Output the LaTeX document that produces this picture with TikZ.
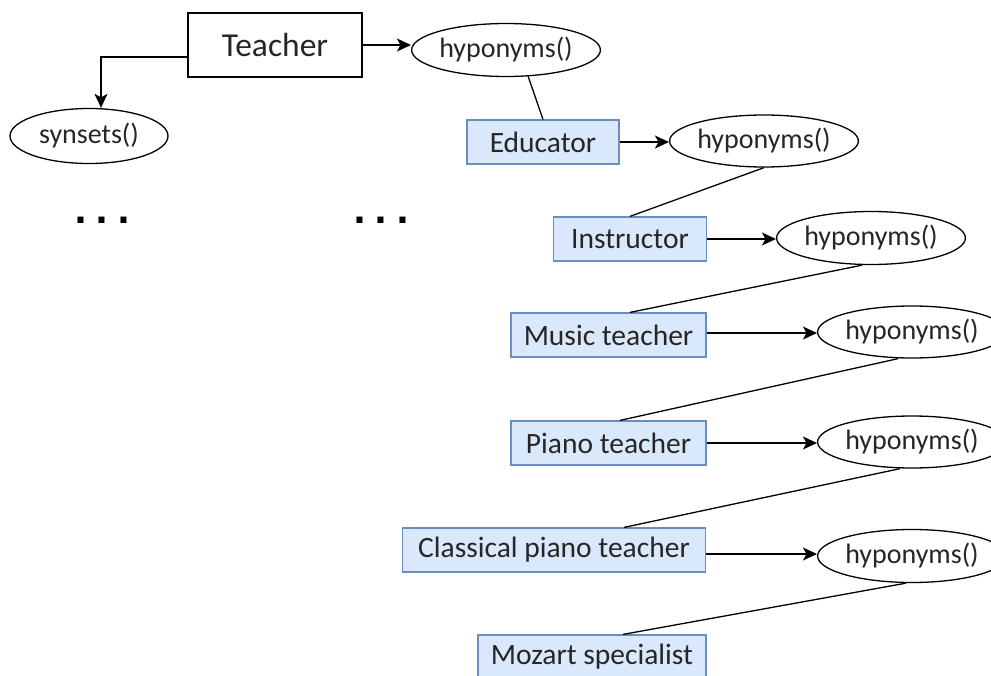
\documentclass[tikz,border=0pt]{standalone}
\usepackage{fontspec}
\setmainfont{Carlito}
\newfontfamily\dotfont{DejaVu Sans}
\usetikzlibrary{shapes.geometric,arrows.meta}
\definecolor{boxfill}{HTML}{DAE8FC}
\definecolor{boxline}{HTML}{6C8EBF}
\definecolor{inkgray}{HTML}{262626}
\tikzset{
  termbox/.style={draw=boxline, fill=boxfill, line width=1.2pt, text=inkgray,
    inner sep=0pt, minimum height=44pt, font=\fontsize{29.5}{31}\selectfont},
  rootbox/.style={draw=black, line width=1.4pt, text=inkgray, inner sep=0pt,
    minimum width=174pt, minimum height=64pt, font=\fontsize{33.5}{35}\selectfont},
  callnode/.style={draw=black, ellipse, line width=1.3pt, text=inkgray, inner sep=0pt,
    minimum width=162pt, minimum height=53pt, font=\fontsize{28}{30}\selectfont},
  link/.style={line width=1.3pt, draw=black},
  call/.style={link, -{Stealth[length=14pt,width=13pt,inset=3.5pt]}},
  dots/.style={text=black, inner sep=0pt, anchor=base,
    font=\dotfont\bfseries\fontsize{34}{34}\selectfont}
}
\newcommand{\dotrow}{.\hspace{8.6pt}.\hspace{8.6pt}.}
\begin{document}
\begin{tikzpicture}[x=1pt, y=-1pt]
\useasboundingbox (0,0) rectangle (991,675);

% root word and its two lookups
\node[rootbox] (teacher) at (275,45) {Teacher};
\node[callnode] (hyp0) at (506,50) {hyponyms()};
\node[callnode, minimum width=158pt, minimum height=55pt] (syn) at (89,136) {synsets()};

% chain of hyponyms
\node[termbox, minimum width=152pt] (educator) at (543,142) {Educator};
\node[callnode, minimum width=165pt, minimum height=52pt] (hyp1) at (764,141) {hyponyms()};
\node[termbox, minimum width=153pt] (instructor) at (630,239) {Instructor};
\node[callnode, minimum width=163pt] (hyp2) at (871,238) {hyponyms()};
\node[termbox, minimum width=195pt] (music) at (608.5,335) {Music teacher};
\node[callnode, minimum width=160pt, minimum height=52pt] (hyp3) at (912,332) {hyponyms()};
\node[termbox, minimum width=195pt] (piano) at (608.5,443) {Piano teacher};
\node[callnode, minimum width=160pt, minimum height=52pt] (hyp4) at (912,442) {hyponyms()};
\node[termbox, minimum width=303pt] (classical) at (554,550) {Classical piano teacher};
\node[callnode, minimum width=160pt] (hyp5) at (912,556) {hyponyms()};
\node[termbox, minimum width=228pt] (mozart) at (592,657) {Mozart specialist};

% ellipsis marks
\node[dots] (more1) at (102,223) {\dotrow};
\node[dots] (more2) at (381,223) {\dotrow};

% calls
\draw[call] (teacher.east) -- (teacher.east -| hyp0.west);
\draw[call] ([yshift=-12pt]teacher.west) -| ([xshift=12pt]syn.north);
\draw[call] (educator.east) -- (educator.east -| hyp1.west);
\draw[call] (instructor.east) -- (instructor.east -| hyp2.west);
\draw[call] ([yshift=2pt]music.east) -- ([yshift=2pt]music.east -| hyp3.west);
\draw[call] (piano.east) -- (piano.east -| hyp4.west);
\draw[call] ([yshift=-4pt]classical.east) -- ([yshift=-4pt]classical.east -| hyp5.west);

% results
\draw[link] (hyp0.-50) -- (educator.north);
\draw[link] (hyp1.south) -- (instructor.north);
\draw[link] ([xshift=-9pt]hyp2.south) -- (instructor.north |- music.north);
\draw[link] ([xshift=-14pt]hyp3.south) -- ([xshift=11.5pt]piano.north);
\draw[link] ([xshift=-12pt]hyp4.south) -- ([xshift=70pt]classical.north);
\draw[link] ([xshift=-6pt]hyp5.south) -- ([xshift=31pt]mozart.north);
\end{tikzpicture}
\end{document}
